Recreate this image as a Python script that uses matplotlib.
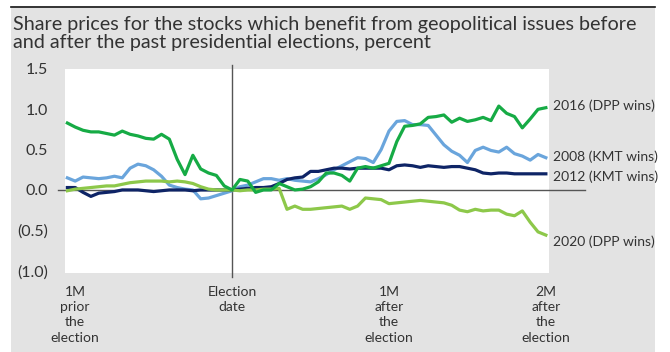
import numpy as np
import matplotlib
matplotlib.use("Agg")
import matplotlib.pyplot as plt
from matplotlib.patches import Rectangle
from matplotlib.lines import Line2D

plt.rcParams['font.family'] = ['Lato', 'DejaVu Sans']

# trading days relative to the election date
days = np.arange(-21, 41)

s2016 = [0.83, 0.78, 0.74, 0.72, 0.72, 0.70, 0.68, 0.73, 0.69, 0.67, 0.64,
         0.63, 0.69, 0.63, 0.38, 0.19, 0.43, 0.26, 0.21, 0.18, 0.05,
         0.00, 0.13, 0.11, -0.03, 0.00, 0.00, 0.08, 0.04, 0.00, 0.01, 0.04,
         0.10, 0.21, 0.21, 0.18, 0.11, 0.27, 0.29, 0.27, 0.30, 0.33,
         0.60, 0.79, 0.80, 0.82, 0.90, 0.91, 0.93, 0.84, 0.89, 0.85,
         0.87, 0.90, 0.86, 1.04, 0.95, 0.91, 0.77, 0.88, 1.00, 1.02]
s2008 = [0.15, 0.11, 0.16, 0.15, 0.14, 0.15, 0.17, 0.15, 0.27, 0.32, 0.30,
         0.25, 0.17, 0.06, 0.03, 0.01, 0.00, -0.11, -0.10, -0.07, -0.04,
         -0.01, 0.04, 0.06, 0.10, 0.14, 0.14, 0.12, 0.14, 0.12, 0.11, 0.10,
         0.14, 0.19, 0.25, 0.30, 0.35, 0.40, 0.39, 0.34, 0.50, 0.73,
         0.85, 0.86, 0.81, 0.81, 0.80, 0.68, 0.56, 0.48, 0.43, 0.34,
         0.49, 0.53, 0.49, 0.47, 0.53, 0.45, 0.42, 0.37, 0.44, 0.40]
s2012 = [0.03, 0.03, -0.03, -0.08, -0.04, -0.03, -0.02, 0.00, 0.00, 0.00, -0.01,
         -0.02, -0.01, 0.00, 0.00, 0.00, -0.01, 0.00, 0.00, 0.00, 0.00,
         0.00, 0.01, 0.02, 0.03, 0.03, 0.04, 0.08, 0.13, 0.15, 0.16, 0.23,
         0.23, 0.25, 0.27, 0.27, 0.26, 0.27, 0.27, 0.27, 0.27, 0.25,
         0.30, 0.31, 0.30, 0.28, 0.30, 0.29, 0.28, 0.29, 0.29, 0.27,
         0.25, 0.21, 0.20, 0.21, 0.21, 0.20, 0.20, 0.20, 0.20, 0.20]
s2020 = [-0.01, 0.01, 0.02, 0.03, 0.04, 0.05, 0.05, 0.07, 0.09, 0.10, 0.11,
         0.11, 0.11, 0.10, 0.11, 0.10, 0.08, 0.04, 0.01, 0.00, 0.00,
         0.00, -0.01, 0.00, 0.00, 0.01, 0.01, 0.02, -0.24, -0.20, -0.24, -0.24,
         -0.23, -0.22, -0.21, -0.20, -0.24, -0.20, -0.10, -0.11, -0.12, -0.17,
         -0.16, -0.15, -0.14, -0.13, -0.14, -0.15, -0.16, -0.19, -0.25, -0.27,
         -0.24, -0.26, -0.25, -0.25, -0.30, -0.32, -0.26, -0.40, -0.52, -0.56]

labels = ['2016 (DPP wins)', '2008 (KMT wins)', '2012 (KMT wins)', '2020 (DPP wins)']
label_y = [1.04, 0.41, 0.16, -0.64]
colors = ['#16ab45', '#6aa5dc', '#0e2466', '#8dc84a']

xticks = [-20, 0, 20, 40]
xticklabels = ['1M\nprior\nthe\nelection', 'Election\ndate',
               '1M\nafter\nthe\nelection', '2M\nafter\nthe\nelection']
yticks = [1.5, 1.0, 0.5, 0.0, -0.5, -1.0]
yticklabels = ['1.5', '1.0', '0.5', '0.0', '(0.5)', '(1.0)']

fig = plt.figure(figsize=(6.7, 3.52), dpi=100)
fig.patch.set_facecolor('white')
W, H = 670, 352

# grey panel + top rule
fig.patches.append(Rectangle((11 / W, 0), 644 / W, 1 - 8 / H, transform=fig.transFigure,
                             facecolor='#e3e3e3', edgecolor='none', zorder=-5))
fig.lines.append(Line2D([11 / W, 655 / W], [1 - 7 / H, 1 - 7 / H], transform=fig.transFigure,
                        color='#111111', lw=1.2, zorder=-4))

fig.text(13 / W, 1 - 16 / H,
         'Share prices for the stocks which benefit from geopolitical issues before\n'
         'and after the past presidential elections, percent',
         fontsize=14.2, color='#333333', va='top', ha='left', linespacing=1.1)

ax = fig.add_axes([65 / W, 1 - 273 / H, 484 / W, 204 / H], zorder=2)
ax.set_facecolor('white')
for sp in ax.spines.values():
    sp.set_visible(False)

ax.set_xlim(-21.3, 40.4)
ax.set_ylim(-1.03, 1.5)

ax.axhline(0, xmin=-0.015, xmax=1.075, color='#555555', lw=1, clip_on=False, zorder=2)
ax.axvline(0, ymin=-0.02, ymax=1.02, color='#555555', lw=1, clip_on=False, zorder=2)

for ser, col in zip([s2008, s2012, s2020, s2016], [colors[1], colors[2], colors[3], colors[0]]):
    ax.plot(days, ser, color=col, lw=2.3, zorder=3, solid_joinstyle='round')

for lab, yy in zip(labels, label_y):
    ax.text(1.008, yy, lab, transform=ax.get_yaxis_transform(), fontsize=10,
            color='#333333', va='center', ha='left')

ax.set_yticks(yticks)
ax.set_yticklabels(yticklabels, fontsize=11.5, color='#333333')
ax.set_xticks(xticks)
ax.set_xticklabels(xticklabels, fontsize=10, color='#333333', linespacing=1.35)
ax.tick_params(axis='both', length=0)
ax.tick_params(axis='y', pad=12)
ax.tick_params(axis='x', pad=9)

fig.savefig('out.png', dpi=100, facecolor=fig.get_facecolor())
